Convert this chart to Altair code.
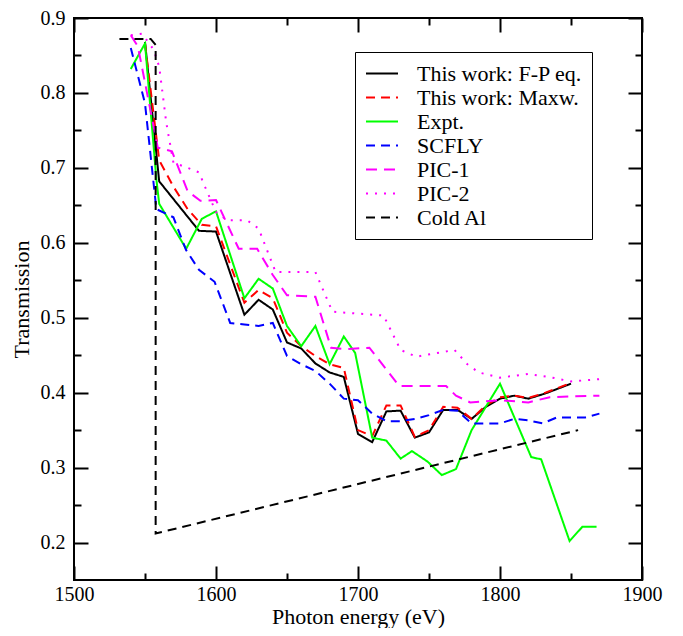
import altair as alt
import pandas as pd

# ---------------- data ----------------
names = ["This work: F-P eq.", "This work: Maxw.", "Expt.", "SCFLY", "PIC-1", "PIC-2", "Cold Al"]
colors = ["#000000", "#ff0000", "#00ff00", "#0000ff", "#ff00ff", "#ff00ff", "#000000"]
dashes = [[1, 0], [9, 6], [1, 0], [9, 6], [11, 7], [2, 7], [9, 6]]

fp_e = [1550, 1560, 1588, 1600, 1620, 1630, 1640, 1650, 1660, 1670, 1680, 1690, 1700, 1710, 1720,
        1730, 1740, 1750, 1760, 1770, 1780, 1790, 1800, 1810, 1820, 1832, 1850]
fp_t = [0.868, 0.682, 0.616, 0.615, 0.504, 0.524, 0.511, 0.467, 0.459, 0.439, 0.427, 0.421, 0.345, 0.334, 0.375,
        0.376, 0.340, 0.347, 0.377, 0.377, 0.365, 0.381, 0.392, 0.396, 0.392, 0.399, 0.412]

mx_e = [1550, 1560, 1570, 1580, 1590, 1600, 1620, 1630, 1640, 1650, 1660, 1670, 1680, 1690, 1700, 1710,
        1720, 1730, 1740, 1750, 1760, 1770, 1780, 1790, 1800, 1810, 1820, 1832, 1850]
mx_t = [0.866, 0.710, 0.675, 0.645, 0.624, 0.622, 0.520, 0.537, 0.526, 0.480, 0.462, 0.449, 0.438, 0.433, 0.350, 0.342,
        0.383, 0.383, 0.341, 0.350, 0.381, 0.380, 0.365, 0.383, 0.394, 0.396, 0.393, 0.400, 0.413]

ex_e = [1540, 1550, 1558, 1560, 1579, 1590, 1600, 1620, 1630, 1640, 1650, 1660, 1670, 1680, 1690, 1698,
        1710, 1720, 1730, 1738, 1749, 1759, 1769, 1780, 1800, 1822, 1829, 1849, 1858, 1868]
ex_t = [0.832, 0.866, 0.685, 0.652, 0.592, 0.632, 0.642, 0.526, 0.552, 0.539, 0.489, 0.462, 0.489, 0.438, 0.475, 0.453,
        0.340, 0.336, 0.312, 0.322, 0.308, 0.290, 0.298, 0.350, 0.412, 0.314, 0.311, 0.202, 0.221, 0.221]

sc_e = [1540, 1550, 1558, 1570, 1579, 1588, 1599, 1610, 1620, 1630, 1640, 1650, 1660, 1670, 1680, 1690, 1700,
        1710, 1720, 1730, 1740, 1750, 1760, 1770, 1780, 1790, 1800, 1810, 1820, 1830, 1840, 1850, 1860, 1870]
sc_t = [0.860, 0.786, 0.645, 0.634, 0.590, 0.564, 0.548, 0.493, 0.491, 0.489, 0.493, 0.449, 0.438, 0.429, 0.412, 0.392, 0.390,
        0.372, 0.362, 0.362, 0.365, 0.370, 0.377, 0.376, 0.359, 0.359, 0.359, 0.365, 0.363, 0.359, 0.367, 0.367, 0.367, 0.372]

p1_e = [1540, 1545, 1559, 1569, 1580, 1589, 1600, 1616, 1629, 1640, 1650, 1670, 1681, 1691, 1708, 1729,
        1762, 1769, 1779, 1800, 1820, 1835, 1850, 1870]
p1_t = [0.877, 0.862, 0.727, 0.722, 0.669, 0.656, 0.657, 0.592, 0.592, 0.557, 0.530, 0.528, 0.460, 0.458, 0.460, 0.409,
        0.409, 0.396, 0.387, 0.390, 0.387, 0.394, 0.395, 0.396]

p2_e = [1540, 1548, 1556, 1560, 1565, 1570, 1580, 1588, 1592, 1600, 1608, 1622, 1630, 1642, 1670, 1682,
        1718, 1730, 1741, 1768, 1777, 1785, 1800, 1820, 1837, 1850, 1870]
p2_t = [0.877, 0.879, 0.858, 0.835, 0.760, 0.707, 0.700, 0.694, 0.676, 0.641, 0.630, 0.630, 0.619, 0.561, 0.561, 0.508,
        0.503, 0.457, 0.448, 0.457, 0.438, 0.427, 0.420, 0.425, 0.420, 0.415, 0.418]

ca_e = [1532, 1554, 1557.5, 1557.5, 1855]
ca_t = [0.872, 0.872, 0.864, 0.212, 0.350]

x_major = [1500, 1600, 1700, 1800, 1900]
x_minor = [1550, 1650, 1750, 1850]
y_major = [0.2, 0.3, 0.4, 0.5, 0.6, 0.7, 0.8, 0.9]
y_minor = [0.25, 0.35, 0.45, 0.55, 0.65, 0.75, 0.85]

# ---------------- table ----------------
series = [(names[0], fp_e, fp_t), (names[1], mx_e, mx_t), (names[2], ex_e, ex_t), (names[3], sc_e, sc_t),
          (names[4], p1_e, p1_t), (names[5], p2_e, p2_t), (names[6], ca_e, ca_t)]
rows = []
for nm, es, ts in series:
    for i, (e, t) in enumerate(zip(es, ts)):
        rows.append({"series": nm, "E": e, "T": t, "idx": i})
df = pd.DataFrame(rows)

W, H = 568, 562
FONT = "Liberation Serif"
xscale = alt.Scale(domain=[1500, 1900], nice=False, zero=False)
yscale = alt.Scale(domain=[0.15, 0.9], nice=False, zero=False)

legend_kw = dict(title=None, orient="none", legendX=281, legendY=34,
                 strokeColor="black", fillColor="white", padding=10,
                 labelFont=FONT, labelFontSize=22, labelColor="black",
                 symbolType="stroke", symbolSize=1024, symbolStrokeWidth=2,
                 clipHeight=23, rowPadding=1, labelOffset=18, labelLimit=400)

lines = alt.Chart(df).mark_line(strokeWidth=2).encode(
    x=alt.X("E:Q", scale=xscale,
            axis=alt.Axis(orient="bottom", title="Photon energy (eV)", values=x_major, format="d", ticks=False,
                          tickSize=0, domain=False, grid=False, labelFlush=False, labelPadding=4,
                          titleY=43, titleBaseline="alphabetic",
                          labelFont=FONT, titleFont=FONT, labelFontSize=20, titleFontSize=22,
                          titleFontWeight="normal", labelColor="black", titleColor="black")),
    y=alt.Y("T:Q", scale=yscale,
            axis=alt.Axis(orient="left", title="Transmission", values=y_major, format=".1f", ticks=False,
                          tickSize=0, domain=False, grid=False, labelFlush=False, labelPadding=9, titlePadding=7,
                          labelFont=FONT, titleFont=FONT, labelFontSize=20, titleFontSize=22,
                          titleFontWeight="normal", labelColor="black", titleColor="black")),
    color=alt.Color("series:N", scale=alt.Scale(domain=names, range=colors), sort=names,
                    legend=alt.Legend(**legend_kw)),
    strokeDash=alt.StrokeDash("series:N", scale=alt.Scale(domain=names, range=dashes), sort=names,
                              legend=alt.Legend(**legend_kw)),
    order="idx:Q",
)


def tick_layer(xorient, xvals, xsize, yorient, yvals, ysize, xoff, yoff):
    return alt.Chart(df).mark_point(opacity=0).encode(
        x=alt.X("E:Q", scale=xscale,
                axis=alt.Axis(orient=xorient, offset=xoff, values=xvals, labels=False, title=None, domain=False,
                              grid=False, ticks=True, tickSize=xsize, tickWidth=2, tickColor="black")),
        y=alt.Y("T:Q", scale=yscale,
                axis=alt.Axis(orient=yorient, offset=yoff, values=yvals, labels=False, title=None, domain=False,
                              grid=False, ticks=True, tickSize=ysize, tickWidth=2, tickColor="black")),
    )


t1 = tick_layer("top", x_major, 14, "right", y_major, 14, -H, -W)
t2 = tick_layer("bottom", x_major, 14, "left", y_major, 14, -H, -W)
t3 = tick_layer("top", x_minor, 7, "right", y_minor, 7, -H, -W)
t4 = tick_layer("bottom", x_minor, 7, "left", y_minor, 7, -H, -W)

chart = alt.layer(lines, t1, t2, t3, t4).resolve_axis(x="independent", y="independent").properties(
    width=W, height=H,
    padding={"left": 66, "top": 10, "right": 33, "bottom": 48},
    autosize=alt.AutoSizeParams(type="none"),
    background="white",
).configure_view(stroke="black", strokeWidth=2)

chart.save("out.html", embed_options={"renderer": "svg", "actions": False})
